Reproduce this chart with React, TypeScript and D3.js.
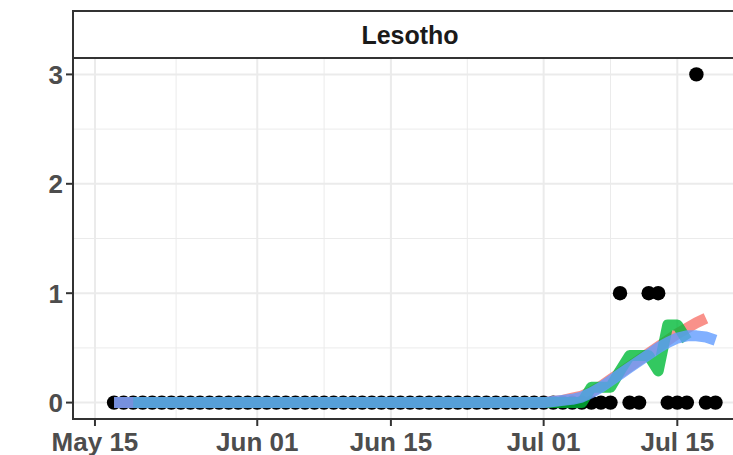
import * as d3 from "d3";

// daily new cases, Lesotho
const firstDay = "2020-05-17";
const cases = [
  0, 0, 0, 0, 0, 0, 0, 0, 0, 0, 0, 0, 0, 0, 0,
  0, 0, 0, 0, 0, 0, 0, 0, 0, 0, 0, 0, 0, 0, 0,
  0, 0, 0, 0, 0, 0, 0, 0, 0, 0, 0, 0, 0, 0, 0,
  0, 0, 0, 0, 0, 0, 0, 0,
  1, 0, 0, 1, 1, 0, 0, 0, 3, 0, 0,
];

// rolling mean (green), starts May 19
const rollStart = "2020-05-19";
const rolling = [
  0, 0, 0, 0, 0, 0, 0, 0, 0, 0, 0, 0, 0,
  0, 0, 0, 0, 0, 0, 0, 0, 0, 0, 0, 0, 0, 0, 0, 0, 0,
  0, 0, 0, 0, 0, 0, 0, 0, 0, 0, 0, 0, 0, 0, 0,
  0, 0, 0,
  0.14, 0.14, 0.14, 0.29, 0.43, 0.43, 0.43, 0.29, 0.71, 0.71, 0.57,
];

// smooth fits (red, blue), start May 17
const fitStart = "2020-05-17";
const fitRed = [
  0, 0, 0, 0, 0, 0, 0, 0, 0, 0, 0, 0, 0, 0, 0,
  0, 0, 0, 0, 0, 0, 0, 0, 0, 0, 0, 0, 0, 0, 0,
  0, 0, 0, 0, 0, 0, 0, 0, 0, 0, 0, 0, 0, 0, 0,
  0, 0.01, 0.02, 0.04, 0.06, 0.10, 0.15, 0.21,
  0.27, 0.33, 0.39, 0.45, 0.51, 0.57, 0.63, 0.68, 0.73, 0.77,
];
const fitBlue = [
  0, 0, 0, 0, 0, 0, 0, 0, 0, 0, 0, 0, 0, 0, 0,
  0, 0, 0, 0, 0, 0, 0, 0, 0, 0, 0, 0, 0, 0, 0,
  0, 0, 0, 0, 0, 0, 0, 0, 0, 0, 0, 0, 0, 0, 0,
  0, 0.01, 0.02, 0.03, 0.05, 0.09, 0.14, 0.20,
  0.26, 0.32, 0.38, 0.44, 0.50, 0.55, 0.59, 0.61, 0.61, 0.60, 0.57,
];

const xTickDates = ["2020-05-15", "2020-06-01", "2020-06-15", "2020-07-01", "2020-07-15"];
const xTickLabels = ["May 15", "Jun 01", "Jun 15", "Jul 01", "Jul 15"];
const yTicks = [0, 1, 2, 3];
const facetLabel = "Lesotho";

const W = 733, H = 455;
const left = 73, right = 747, top = 58, bottom = 419, stripTop = 11;
const font = "'Liberation Sans', Arial, sans-serif";

const day = (s: string) => new Date(s + "T00:00:00Z");
const series = (start: string, vals: number[]) =>
  vals.map((v, i) => ({ date: d3.utcDay.offset(day(start), i), v }));

export default function App() {
  const x = d3.scaleUtc()
    .domain([new Date(Date.UTC(2020, 4, 12, 16, 48)), new Date(Date.UTC(2020, 6, 22, 7, 12))])
    .range([left, right]);
  const y = d3.scaleLinear().domain([-0.15, 3.15]).range([bottom, top]);

  const line = d3.line<{ date: Date; v: number }>()
    .x(d => x(d.date))
    .y(d => y(d.v));

  const pts = series(firstDay, cases);
  const majorX = xTickDates.map(day);
  const minorX = majorX.slice(1).map((d, i) => new Date((d.getTime() + majorX[i].getTime()) / 2));
  const minorY = yTicks.slice(1).map((t, i) => (t + yTicks[i]) / 2);

  const lines = [
    { data: series(fitStart, fitRed), color: "#F8766D" },
    { data: series(rollStart, rolling), color: "#00BA38" },
    { data: series(fitStart, fitBlue), color: "#619CFF" },
  ];

  return (
    <div style={{ position: "fixed", left: 0, top: 0 }}>
      <svg width={W} height={H} style={{ display: "block", background: "#fff" }}>
        <defs>
          <clipPath id="panel">
            <rect x={left} y={top} width={right - left} height={bottom - top} />
          </clipPath>
        </defs>
        <g clipPath="url(#panel)">
          {minorY.map(t => (
            <line key={"my" + t} x1={left} x2={right} y1={y(t)} y2={y(t)} stroke="#EBEBEB" strokeWidth={1} />
          ))}
          {minorX.map((d, i) => (
            <line key={"mx" + i} x1={x(d)} x2={x(d)} y1={top} y2={bottom} stroke="#EBEBEB" strokeWidth={1} />
          ))}
          {yTicks.map(t => (
            <line key={"gy" + t} x1={left} x2={right} y1={y(t)} y2={y(t)} stroke="#EBEBEB" strokeWidth={2} />
          ))}
          {majorX.map((d, i) => (
            <line key={"gx" + i} x1={x(d)} x2={x(d)} y1={top} y2={bottom} stroke="#EBEBEB" strokeWidth={2} />
          ))}
          {pts.map((p, i) => (
            <circle key={i} cx={x(p.date)} cy={y(p.v)} r={7.2} fill="#000" />
          ))}
          {lines.map((l, i) => (
            <path key={i} d={line(l.data) ?? ""} fill="none" stroke={l.color} strokeOpacity={0.8}
              strokeWidth={11} strokeLinejoin="round" strokeLinecap="butt" />
          ))}
        </g>
        <rect x={left} y={top} width={right - left} height={bottom - top} fill="none" stroke="#333333" strokeWidth={2} />
        <rect x={left} y={stripTop} width={right - left} height={top - stripTop} fill="#fff" stroke="#333333" strokeWidth={2} />
        <text x={(left + right) / 2} y={(stripTop + top) / 2} dy="0.36em" textAnchor="middle"
          fontFamily={font} fontWeight="bold" fontSize={25} fill="#1A1A1A">{facetLabel}</text>
        {yTicks.map(t => (
          <g key={"yt" + t}>
            <line x1={left - 7} x2={left} y1={y(t)} y2={y(t)} stroke="#333333" strokeWidth={2} />
            <text x={left - 10} y={y(t)} dy="0.36em" textAnchor="end" fontFamily={font} fontWeight="bold"
              fontSize={26} fill="#4D4D4D">{t}</text>
          </g>
        ))}
        {majorX.map((d, i) => (
          <g key={"xt" + i}>
            <line x1={x(d)} x2={x(d)} y1={bottom} y2={bottom + 7} stroke="#333333" strokeWidth={2} />
            <text x={x(d)} y={451} textAnchor="middle" fontFamily={font} fontWeight="bold"
              fontSize={26} fill="#4D4D4D">{xTickLabels[i]}</text>
          </g>
        ))}
      </svg>
    </div>
  );
}
